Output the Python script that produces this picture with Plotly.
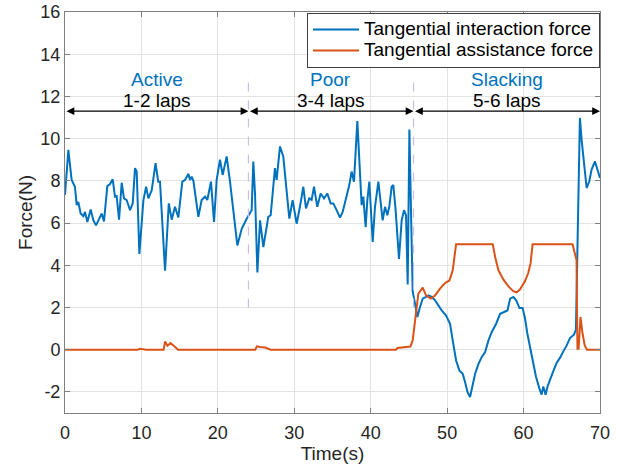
import plotly.graph_objects as go

# ---- Data ----
t_interaction = [0.0, 0.44, 0.87, 1.3, 1.53, 1.74, 2.05, 2.4, 2.62, 2.92, 3.36, 3.71, 4.06, 4.49, 4.8, 5.1,
                 5.54, 5.89, 6.24, 6.54, 6.76, 7.07, 7.42, 7.72, 8.07, 8.51, 8.86, 9.16, 9.38, 9.73, 10.26,
                 10.61, 10.91, 11.35, 11.85, 12.2, 12.43, 13.09, 13.58, 13.96, 14.39, 14.83, 15.35, 15.7,
                 16.14, 16.36, 16.57, 16.8, 17.45, 17.88, 18.32, 18.62, 19.1, 19.5, 19.84, 20.28, 20.63,
                 21.15, 21.59, 22.55, 23.12, 23.77, 24.42, 24.64, 24.86, 25.17, 25.52, 25.95, 26.6, 26.91,
                 27.47, 27.69, 28.13, 28.56, 29.35, 29.78, 30.31, 30.74, 31.18, 31.53, 31.96, 32.27, 32.58,
                 33.01, 33.45, 33.89, 34.32, 34.76, 35.11, 35.54, 35.98, 36.33, 36.76, 37.2, 37.5, 37.81,
                 38.25, 38.6, 38.81, 39.03, 39.34, 39.56, 39.82, 40.26, 40.56, 41.0, 41.3, 41.56, 41.87,
                 42.17, 42.43, 42.74, 42.96, 43.26, 43.7, 44.05, 44.36, 44.62, 44.84, 45.06, 45.27, 45.49,
                 45.8, 46.1, 46.45, 46.8, 47.24, 47.55, 47.98, 48.42, 48.85, 49.29, 49.86, 50.38, 50.73,
                 51.17, 51.6, 52.04, 52.35, 52.66, 53.0, 53.35, 53.66, 54.1, 54.53, 54.97, 55.41, 55.84,
                 56.41, 56.93, 57.46, 57.89, 58.24, 58.68, 59.03, 59.47, 59.87, 60.18, 60.48, 60.83, 61.18,
                 61.61, 62.05, 62.36, 62.58, 62.88, 63.14, 63.45, 63.88, 64.32, 64.76, 65.2, 65.63, 66.07,
                 66.59, 66.85, 66.94, 67.15, 67.37, 67.59, 67.9, 68.25, 68.6, 68.9, 69.34, 69.64, 70.0]
f_interaction = [7.33, 9.47, 8.04, 7.72, 6.85, 7.0, 6.45, 6.32, 6.53, 6.05, 6.64, 6.13, 5.89, 6.26, 6.45, 6.08,
                 7.75, 7.85, 8.07, 7.25, 7.28, 6.16, 7.91, 7.17, 7.09, 6.61, 6.93, 8.6, 8.44, 4.54, 7.09,
                 7.72, 7.17, 7.56, 8.84, 7.96, 7.96, 3.74, 6.93, 6.16, 6.77, 6.26, 7.96, 8.04,
                 8.33, 8.04, 8.2, 8.0, 6.29, 7.09, 7.25, 7.09, 7.96, 6.05, 8.04, 9.0, 8.28,
                 9.16, 7.96, 4.94, 5.73, 6.2, 6.61, 8.92, 7.4, 3.66, 6.13, 4.86, 6.29, 6.37,
                 8.6, 8.04, 9.63, 9.16, 6.21, 7.09, 5.97, 6.77, 7.72, 6.69, 7.17, 7.1, 7.72,
                 6.77, 7.4, 7.17, 7.4, 6.93, 6.93, 6.61, 6.26, 6.53, 7.17, 7.8, 8.44, 7.96,
                 10.83, 8.52, 6.85, 7.25, 5.81, 7.09, 7.96, 5.1, 6.77, 7.96, 6.93, 6.13, 6.77,
                 6.37, 6.77, 7.72, 7.8, 6.61, 4.3, 6.13, 6.61, 6.37, 3.09, 10.43, 6.61, 2.76,
                 2.18, 1.55, 2.02, 2.42, 2.5, 2.57, 2.5, 2.34, 2.1, 1.86, 1.62, 1.23, 0.44,
                 -0.51, -0.98, -1.14, -1.54, -2.0, -2.24, -1.69, -1.14, -0.67, -0.35, -0.11, 0.44, 0.84,
                 1.23, 1.7, 1.78, 1.86, 2.42, 2.5, 2.34, 1.97, 1.97, 1.5, 0.79, 0.16, -0.63,
                 -1.26, -1.82, -2.13, -1.74, -2.13, -1.74, -1.42, -1.03, -0.63, -0.39, -0.08, 0.19, 0.55,
                 0.71, 0.95, 3.0, 7.11, 10.98, 9.95, 8.69, 7.66, 7.98, 8.53, 8.92, 8.53, 8.14]

t_assistance = [0.0, 9.5, 9.8, 10.2, 10.6, 12.9, 13.1, 13.4, 13.8, 14.3, 14.8, 24.9, 25.1, 25.5, 26.2, 26.9,
                43.3, 43.5, 44.2, 44.9, 45.2, 45.49, 45.92, 46.23, 46.8, 47.24, 47.85, 48.42, 49.07, 49.73,
                50.3, 50.73, 51.17, 55.97, 56.28, 56.71, 57.37, 58.02, 58.65, 59.09, 59.52, 60.18, 60.61,
                60.92, 61.18, 66.41, 66.71, 66.93, 67.05, 67.2, 67.45, 67.7, 68.0, 68.3, 70.0]
f_assistance = [0.0, 0.0, 0.04, 0.02, 0.0, 0.0, 0.39, 0.19, 0.31, 0.16, 0.0, 0.0, 0.16, 0.13, 0.1, 0.0,
                0.0, 0.08, 0.1, 0.12, 0.15, 0.44, 1.86, 2.65, 2.94, 2.57, 2.42, 2.57, 2.89, 3.16,
                3.28, 3.76, 5.0, 5.0, 4.39, 3.76, 3.32, 3.0, 2.77, 2.72, 2.85, 3.24, 3.63,
                4.1, 5.0, 5.0, 4.56, 4.24, 0.05, 0.05, 1.55, 0.8, 0.2, 0.0, 0.0]

series_names = ["Tangential interaction force", "Tangential assistance force"]
phase_names = ["Active", "Poor", "Slacking"]
lap_labels = ["1-2 laps", "3-4 laps", "5-6 laps"]
phase_bounds = [0.0, 24.0, 45.6, 70.0]
arrow_level = 11.3
divider_range = [2.0, 13.1]

x_ticks = [0, 10, 20, 30, 40, 50, 60, 70]
y_ticks = [-2, 0, 2, 4, 6, 8, 10, 12, 14, 16]

BLUE = "#0072BD"
ORANGE = "#D95319"
FONT = "Liberation Sans, Arial, sans-serif"


def legend_label(name):
    # larger rendered text while keeping compact legend row spacing
    return '<span style="font-size:19px">' + name + "</span>"


fig = go.Figure()
fig.add_trace(go.Scatter(x=t_interaction, y=f_interaction, mode="lines", name=legend_label(series_names[0]),
                         line=dict(color=BLUE, width=2)))
fig.add_trace(go.Scatter(x=t_assistance, y=f_assistance, mode="lines", name=legend_label(series_names[1]),
                         line=dict(color=ORANGE, width=2)))

# dashed phase dividers
for b in phase_bounds[1:-1]:
    fig.add_trace(go.Scatter(x=[b, b], y=divider_range, mode="lines", showlegend=False,
                             hoverinfo="skip", line=dict(color="#c9bde3", width=1.2, dash="dash")))

annotations = []
for i in range(3):
    x0, x1 = phase_bounds[i], phase_bounds[i + 1]
    xc = (x0 + x1) / 2
    annotations.append(dict(x=x1, y=arrow_level, ax=x0, ay=arrow_level, xref="x", yref="y",
                            axref="x", ayref="y", text="", showarrow=True, arrowhead=2,
                            arrowside="end+start", arrowsize=1.2, arrowwidth=1.3, arrowcolor="black"))
    annotations.append(dict(x=xc, y=arrow_level, xref="x", yref="y", text=lap_labels[i],
                            showarrow=False, yanchor="bottom", yshift=-2,
                            font=dict(family=FONT, size=19, color="black")))
    annotations.append(dict(x=xc, y=arrow_level, xref="x", yref="y", text=phase_names[i],
                            showarrow=False, yanchor="bottom", yshift=19,
                            font=dict(family=FONT, size=19, color=BLUE)))

axis_common = dict(showgrid=True, gridcolor="#e3e3e3", gridwidth=1, zeroline=False,
                   showline=True, linecolor="#808080", linewidth=1, mirror="ticks",
                   ticks="inside", ticklen=5, tickcolor="#808080", automargin=False,
                   tickfont=dict(family=FONT, size=18, color="#262626"))

fig.update_layout(
    width=622, height=470,
    margin=dict(l=65, r=22, t=12, b=57),
    paper_bgcolor="white", plot_bgcolor="white",
    font=dict(family=FONT, color="#262626"),
    xaxis=dict(range=[0, 70], tickvals=x_ticks, ticktext=[str(v) for v in x_ticks],
               ticklabelstandoff=3,
               title=dict(text="Time(s)", font=dict(family=FONT, size=19, color="#262626"), standoff=2),
               **axis_common),
    yaxis=dict(range=[-3, 16], tickvals=y_ticks, ticktext=[str(v) for v in y_ticks],
               title=dict(text="Force(N)", font=dict(family=FONT, size=19, color="#262626"), standoff=2),
               **axis_common),
    legend=dict(x=1, y=0.998, xanchor="right", yanchor="top", bgcolor="white",
                bordercolor="#404040", borderwidth=1, tracegroupgap=0, itemwidth=46,
                font=dict(family=FONT, size=14, color="black")),
    annotations=annotations,
    showlegend=True,
)

fig.write_html("out.html")
